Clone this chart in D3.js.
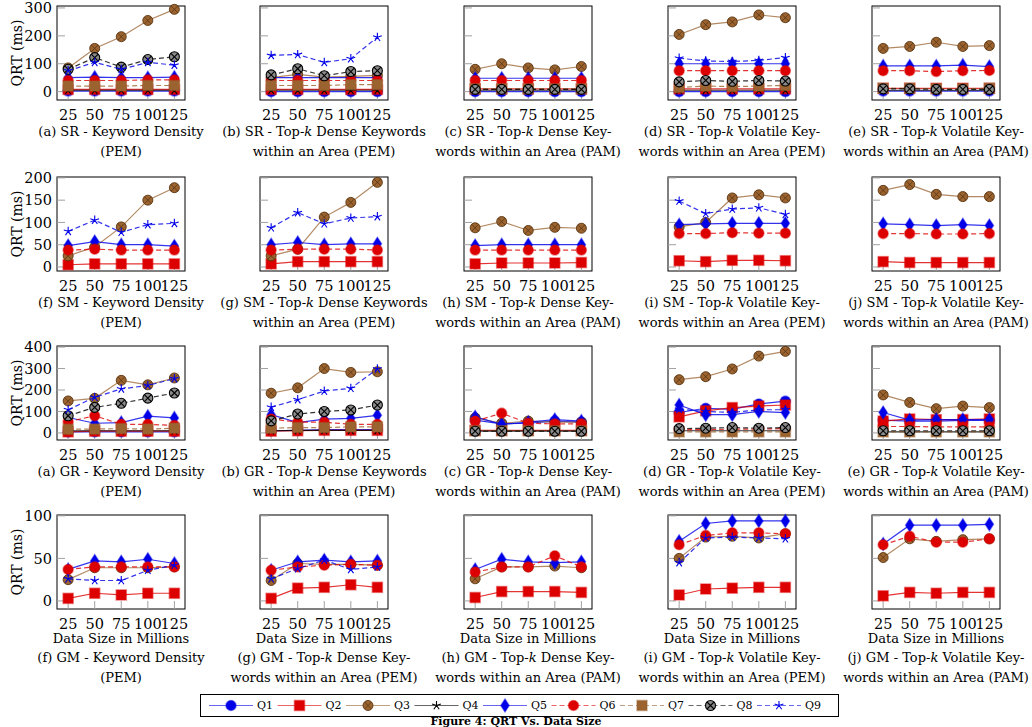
<!DOCTYPE html>
<html><head><meta charset="utf-8">
<script src="https://cdn.jsdelivr.net/npm/d3@7"></script>
<style>
body{margin:0;background:#fff}
svg{display:block}
text{font-family:"DejaVu Serif",serif;fill:#000}
</style>
</head><body>
<svg id="chart" width="1032" height="727"></svg>
<script>
// ---------- data ----------
const xValues = [25, 50, 75, 100, 125];
const xTickLabels = ["25", "50", "75", "100", "125"];
const seriesNames = ["Q1","Q2","Q3","Q4","Q5","Q6","Q7","Q8","Q9"];
const yTicksSR = [0, 100, 200, 300];
const yTicksSM = [0, 50, 100, 150, 200];
const yTicksGR = [0, 100, 200, 300, 400];
const yTicksGM = [0, 50, 100];

// each panel: rows Q1..Q9, null = query not plotted
const srA = [[2,2,2,2,2],[8,8,8,8,8],[85,155,197,255,295],[5,5,5,5,5],[50,52,50,50,52],[40,40,40,42,42],[20,20,20,22,22],[80,122,88,115,125],[75,105,80,105,95]];
const srB = [[0,0,0,0,0],[8,8,8,8,8],[50,62,52,55,58],[5,5,5,5,5],[50,50,50,50,50],[40,40,40,40,40],[22,22,22,25,25],[60,82,57,72,75],[130,133,105,118,195]];
const srC = [[0,0,0,0,0],[10,10,10,10,10],[80,100,85,78,90],[5,5,5,5,5],[48,48,48,48,48],[40,40,40,40,40],[10,10,10,10,10],[8,8,8,8,8],null];
const srD = [[0,0,0,0,0],[10,10,10,10,10],[205,240,250,275,265],[5,5,5,5,5],[100,100,100,100,100],[75,75,75,75,75],[15,20,18,20,22],[35,40,37,40,38],[120,110,108,112,122]];
const srE = [[2,2,2,2,2],[12,12,12,12,12],[155,162,177,162,165],[5,5,5,5,5],[92,92,92,95,90],[75,75,72,75,76],[12,12,10,10,12],[10,10,8,8,8],null];

const smF = [null,[5,7,7,7,7],[25,45,90,150,178],null,[48,57,50,50,47],[38,40,38,38,38],null,null,[80,105,78,95,98]];
const smG = [null,[7,12,12,12,12],[25,40,112,145,190],null,[50,55,50,52,52],[38,40,40,40,38],null,null,[88,122,97,110,113]];
const smH = [null,[7,9,9,9,10],[88,102,82,89,87],null,[48,50,50,50,50],[38,38,38,38,38],null,null,null];
const smI = [null,[14,12,15,15,14],[90,100,155,162,155],null,[95,97,98,98,98],[75,75,77,76,76],null,null,[148,120,130,133,118]];
const smJ = [null,[12,10,10,10,10],[172,185,163,158,158],null,[97,95,93,95,93],[75,75,74,74,75],null,null,null];

const grA = [[5,5,5,5,5],[5,8,8,8,8],[149,161,245,224,256],[10,10,10,10,10],[72,45,48,78,70],[52,80,40,40,35],[17,18,20,18,22],[80,119,138,162,186],[108,166,205,221,253]];
const grB = [[10,12,15,15,15],[8,10,12,12,12],[185,210,300,282,285],[10,12,12,12,12],[85,48,64,68,82],[65,50,50,40,40],[22,25,25,28,28],[56,88,100,107,130],[120,155,195,208,298]];
const grC = [[60,42,45,55,50],[12,12,12,12,12],[70,45,55,50,50],[8,8,8,8,8],[75,40,50,62,55],[55,92,45,42,42],[10,10,10,10,10],[8,8,8,8,8],null];
const grD = [[95,115,110,135,148],[75,103,118,125,130],[248,262,298,358,380],[10,10,10,10,10],[130,85,85,100,95],[15,15,18,18,20],[5,5,5,5,5],[20,22,25,22,25],[110,100,95,108,108]];
const grE = [[60,55,55,58,58],[55,65,62,62,65],[177,142,113,125,118],[5,5,5,5,5],[95,60,62,62,62],[30,30,28,28,28],[5,5,5,5,5],[10,10,10,10,10],null];

const gmF = [null,[3,9,7,9,9],[25,39,39,39,40],null,[37,47,46,49,44],[37,40,40,40,40],null,null,[26,24,24,36,42]];
const gmG = [null,[3,15,16,19,16],[24,44,43,43,42],null,[36,46,48,46,47],[36,40,42,43,42],null,null,[26,38,48,37,40]];
const gmH = [null,[4,11,11,11,10],[26,40,40,41,39],null,[37,49,46,45,46],[34,40,40,53,40],null,null,null];
const gmI = [null,[7,14,15,16,16],[50,75,76,74,79],null,[70,91,94,94,94],[66,77,80,80,79],null,null,[45,74,75,74,73]];
const gmJ = [null,[6,10,9,10,10],[51,73,70,72,73],null,[67,89,89,89,90],[66,76,69,69,73],null,null,null];

const captionsSR = [["(a) SR - Keyword Density","(PEM)"],["(b) SR - Top-k Dense Keywords","within an Area (PEM)"],["(c) SR - Top-k Dense Key-","words within an Area (PAM)"],["(d) SR - Top-k Volatile Key-","words within an Area (PEM)"],["(e) SR - Top-k Volatile Key-","words within an Area (PAM)"]];
const captionsSM = [["(f) SM - Keyword Density","(PEM)"],["(g) SM - Top-k Dense Keywords","within an Area (PEM)"],["(h) SM - Top-k Dense Key-","words within an Area (PAM)"],["(i) SM - Top-k Volatile Key-","words within an Area (PEM)"],["(j) SM - Top-k Volatile Key-","words within an Area (PAM)"]];
const captionsGR = [["(a) GR - Keyword Density","(PEM)"],["(b) GR - Top-k Dense Keywords","within an Area (PEM)"],["(c) GR - Top-k Dense Key-","words within an Area (PAM)"],["(d) GR - Top-k Volatile Key-","words within an Area (PEM)"],["(e) GR - Top-k Volatile Key-","words within an Area (PAM)"]];
const captionsGM = [["(f) GM - Keyword Density","(PEM)"],["(g) GM - Top-k Dense Key-","words within an Area (PEM)"],["(h) GM - Top-k Dense Key-","words within an Area (PAM)"],["(i) GM - Top-k Volatile Key-","words within an Area (PEM)"],["(j) GM - Top-k Volatile Key-","words within an Area (PAM)"]];

const yAxisTitle = "QRT (ms)";
const xAxisTitle = "Data Size in Millions";
const figureTitle = "Figure 4: QRT Vs. Data Size";

// ---------- layout & styles ----------
const rows = [
  {panels:[srA,srB,srC,srD,srE], caps:captionsSR, ticks:yTicksSR, dom:[-30,307], top:6},
  {panels:[smF,smG,smH,smI,smJ], caps:captionsSM, ticks:yTicksSM, dom:[-9,202], top:177},
  {panels:[grA,grB,grC,grD,grE], caps:captionsGR, ticks:yTicksGR, dom:[-33,405], top:346},
  {panels:[gmF,gmG,gmH,gmI,gmJ], caps:captionsGM, ticks:yTicksGM, dom:[-9.5,101], top:515, xTitle:true}
];
const colLeft = [57, 260, 464, 668, 872];
const PW = 128, PH = 94;

const BLUE="#0000e8", RED="#dd0000", BROWN="#9a6330", GRAY="#8a8a8a";
const styles = [
  {c:BLUE, dash:null, m:"circle"},
  {c:RED, dash:null, m:"square"},
  {c:BROWN, dash:null, m:"otimes"},
  {c:"#000", dash:null, m:"star"},
  {c:BLUE, dash:null, m:"diamond"},
  {c:RED, dash:"5,3", m:"circle"},
  {c:BROWN, dash:"5,3", m:"square"},
  {c:"#000", dash:"5,3", m:"otimesGray"},
  {c:BLUE, dash:"5,3", m:"star"}
];

const svg = d3.select("#chart");

function drawMarker(g, type, color, x, y) {
  if (type === "circle") {
    g.append("circle").attr("cx",x).attr("cy",y).attr("r",5)
      .attr("fill",color).attr("stroke",color).attr("stroke-opacity",0.45).attr("stroke-width",1.6);
  } else if (type === "square") {
    g.append("rect").attr("x",x-5).attr("y",y-5).attr("width",10).attr("height",10)
      .attr("fill",color).attr("stroke",color).attr("stroke-opacity",0.45).attr("stroke-width",1.6);
  } else if (type === "diamond") {
    g.append("path").attr("d",`M${x},${y-6.5}L${x+4.2},${y}L${x},${y+6.5}L${x-4.2},${y}Z`)
      .attr("fill",color).attr("stroke",color).attr("stroke-opacity",0.45).attr("stroke-width",1.4);
  } else if (type === "otimes" || type === "otimesGray") {
    const fill = type === "otimes" ? BROWN : GRAY;
    const st = type === "otimes" ? "#5a3510" : "#000";
    g.append("circle").attr("cx",x).attr("cy",y).attr("r",5)
      .attr("fill",fill).attr("stroke",st).attr("stroke-width",type==="otimes"?0.9:1.1);
    const d = 3.5;
    g.append("path").attr("d",`M${x-d},${y-d}L${x+d},${y+d}M${x-d},${y+d}L${x+d},${y-d}`)
      .attr("stroke",st).attr("stroke-width",type==="otimes"?0.8:1.1);
  } else if (type === "star") {
    const r = 4.6; let p = "";
    for (let k=0;k<5;k++){ const a = -Math.PI/2 + k*2*Math.PI/5; p += `M${x},${y}L${x+r*Math.cos(a)},${y+r*Math.sin(a)}`; }
    g.append("path").attr("d",p).attr("stroke",color).attr("stroke-width",1.1).attr("fill","none");
  }
}

function captionText(sel, str) {
  const i = str.indexOf("Top-k");
  if (i < 0) { sel.text(str); return; }
  sel.append("tspan").text(str.slice(0, i+4));
  sel.append("tspan").attr("font-style","italic").text("k");
  sel.append("tspan").text(str.slice(i+5));
}

rows.forEach((row, ri) => {
  const y = d3.scaleLinear().domain(row.dom).range([row.top+PH, row.top]);
  row.panels.forEach((panel, ci) => {
    const left = colLeft[ci];
    const x = d3.scaleLinear().domain([14.5,135]).range([left, left+PW]);
    const g = svg.append("g");
    g.append("rect").attr("x",left).attr("y",row.top).attr("width",PW).attr("height",PH)
      .attr("fill","none").attr("stroke","#000").attr("stroke-width",1);
    row.ticks.forEach(t => {
      g.append("line").attr("x1",left).attr("x2",left+8).attr("y1",y(t)).attr("y2",y(t))
        .attr("stroke","#a0a0a0").attr("stroke-width",1);
    });
    xValues.forEach(v => {
      g.append("line").attr("x1",x(v)).attr("x2",x(v)).attr("y1",row.top+PH).attr("y2",row.top+PH-8)
        .attr("stroke","#a0a0a0").attr("stroke-width",1);
    });
    xValues.forEach((v,i) => {
      g.append("text").attr("x",x(v)).attr("y",row.top+PH+20).attr("text-anchor","middle")
        .attr("font-size","14.5px").text(xTickLabels[i]);
    });
    if (ci === 0) {
      row.ticks.forEach(t => {
        g.append("text").attr("x",left-5).attr("y",y(t)).attr("dy","0.36em").attr("text-anchor","end")
          .attr("font-size","14.5px").text(String(t));
      });
      g.append("text").attr("transform",`translate(17,${row.top+PH/2}) rotate(-90)`)
        .attr("text-anchor","middle").attr("dy","0.35em").attr("font-size","14px").text(yAxisTitle);
    }
    const line = d3.line().defined(d => d != null).x((d,i) => x(xValues[i])).y(d => y(d));
    panel.forEach((vals, si) => {
      if (!vals) return;
      const st = styles[si];
      g.append("path").datum(vals).attr("d",line).attr("fill","none")
        .attr("stroke",st.c).attr("stroke-opacity",si===2?0.75:0.8).attr("stroke-width",1.2)
        .attr("stroke-dasharray",st.dash);
      vals.forEach((v,i) => drawMarker(g, st.m, st.c, x(xValues[i]), y(v)));
    });
    const cx = left + PW/2;
    let base = row.top + PH + 36;
    if (row.xTitle) {
      g.append("text").attr("x",cx).attr("y",row.top+PH+34).attr("text-anchor","middle")
        .attr("font-size","13px").text(xAxisTitle);
      base = row.top + PH + 53;
    }
    const c1 = g.append("text").attr("x",cx).attr("y",base).attr("text-anchor","middle").attr("font-size","13px");
    captionText(c1, row.caps[ci][0]);
    g.append("text").attr("x",cx).attr("y",base+19.5).attr("text-anchor","middle").attr("font-size","13px")
      .text(row.caps[ci][1]);
  });
});

// legend
const lg = svg.append("g");
lg.append("rect").attr("x",200.5).attr("y",694.5).attr("width",638).attr("height",22)
  .attr("fill","#fff").attr("stroke","#000").attr("stroke-width",1);
seriesNames.forEach((name, i) => {
  const mx = 231 + i*68.5, my = 705.5;
  const st = styles[i];
  lg.append("line").attr("x1",mx-22).attr("x2",mx+22).attr("y1",my).attr("y2",my)
    .attr("stroke",st.c).attr("stroke-opacity",0.6).attr("stroke-width",1.2).attr("stroke-dasharray",st.dash);
  drawMarker(lg, st.m, st.c, mx, my);
  lg.append("text").attr("x",mx+26).attr("y",my).attr("dy","0.35em").attr("font-size","11px").text(name);
});

svg.append("text").attr("x",516).attr("y",724.5).attr("text-anchor","middle").attr("font-size","11px")
  .attr("font-weight","bold").text(figureTitle);
</script>
</body></html>
